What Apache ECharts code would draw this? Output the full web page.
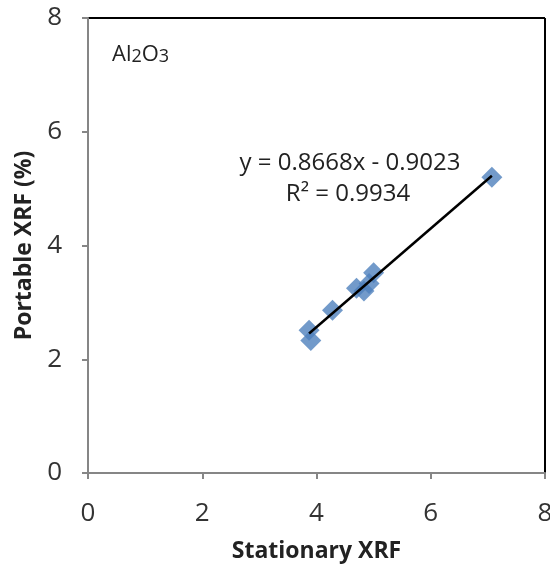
<!DOCTYPE html>
<html><head><meta charset="utf-8">
<script src="https://cdn.jsdelivr.net/npm/echarts@6/dist/echarts.min.js"></script>
<style>html,body{margin:0;padding:0;background:#fff}#c{width:550px;height:566px}</style>
</head><body><div id="c"></div>
<script>
const stationary = [3.87, 3.90, 4.28, 4.70, 4.83, 4.92, 5.00, 7.07];
const portable   = [2.51, 2.33, 2.86, 3.25, 3.20, 3.33, 3.52, 5.20];
const slope = 0.8668, intercept = -0.9023;
const axisTicks = [0, 2, 4, 6, 8];
const eqText = 'y = 0.8668x - 0.9023';
const r2Text = 'R² = 0.9934';

const pts = stationary.map((x, i) => [x, portable[i]]);
const xmin = Math.min(...stationary), xmax = Math.max(...stationary);
const fit = [[xmin, slope * xmin + intercept], [xmax, slope * xmax + intercept]];
const FONT = '"Open Sans", sans-serif';

const chart = echarts.init(document.getElementById('c'));
chart.setOption({
  animation: false,
  grid: { left: 88, right: 5, top: 18, bottom: 93, show: false, containLabel: false, outerBoundsMode: 'none' },
  xAxis: {
    type: 'value', min: 0, max: 8, interval: 2,
    name: 'Stationary XRF', nameLocation: 'middle', nameGap: 67,
    nameTextStyle: { fontFamily: FONT, fontWeight: 'bold', fontSize: 23, color: '#222' },
    axisLine: { lineStyle: { color: '#868686', width: 2 } },
    axisTick: { show: true, length: 6, lineStyle: { color: '#868686', width: 2 } },
    axisLabel: { fontFamily: FONT, fontSize: 26, color: '#333', margin: 28 },
    splitLine: { show: false }
  },
  yAxis: {
    type: 'value', min: 0, max: 8, interval: 2,
    name: 'Portable XRF (%)', nameLocation: 'middle', nameGap: 51, nameRotate: 90,
    nameTextStyle: { fontFamily: FONT, fontWeight: 'bold', fontSize: 23, color: '#222' },
    axisLine: { lineStyle: { color: '#868686', width: 2 } },
    axisTick: { show: true, length: 6, lineStyle: { color: '#868686', width: 2 } },
    axisLabel: { fontFamily: FONT, fontSize: 26, color: '#333', margin: 26 },
    splitLine: { show: false }
  },
  graphic: [
    { type: 'line', shape: { x1: 88, y1: 18, x2: 545, y2: 18 }, style: { stroke: '#000', lineWidth: 2 } },
    { type: 'line', shape: { x1: 545, y1: 18, x2: 545, y2: 473 }, style: { stroke: '#000', lineWidth: 2 } },
    { type: 'text', left: 112, top: 44,
      style: { text: '{a|Al}{s|2}{a|O}{s|3}', fontFamily: FONT,
        rich: { a: { fontSize: 22, fontFamily: FONT, fill: '#222', verticalAlign: 'bottom', lineHeight: 28 },
                s: { fontSize: 18, fontFamily: FONT, fill: '#222', verticalAlign: 'bottom', lineHeight: 26 } } } },
    { type: 'text', x: 350, y: 163, style: { text: eqText, fontFamily: FONT, fontSize: 24, fill: '#222', textAlign: 'center', textVerticalAlign: 'middle' } },
    { type: 'text', x: 348, y: 194, style: { text: r2Text, fontFamily: FONT, fontSize: 24, fill: '#222', textAlign: 'center', textVerticalAlign: 'middle' } }
  ],
  series: [
    { type: 'scatter', data: pts, symbol: 'diamond', symbolSize: 21,
      itemStyle: { color: '#4f81bd' }, z: 2 },
    { type: 'line', data: fit, symbol: 'none', lineStyle: { color: '#000', width: 2.5 }, z: 3 }
  ]
});
</script></body></html>
